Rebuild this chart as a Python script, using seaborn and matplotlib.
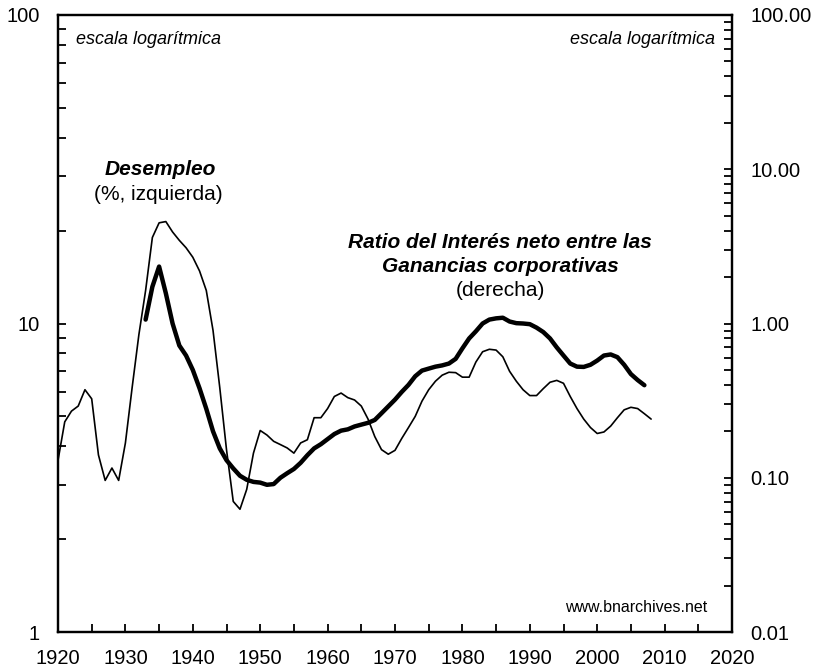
import numpy as np
import pandas as pd
import matplotlib
matplotlib.use("Agg")
import matplotlib.pyplot as plt
import matplotlib.ticker as mticker
import seaborn as sns

# Desempleo (%, eje izquierdo), 1920-2008
years_unemp = list(range(1920, 2009))
unemp = [3.6, 4.8, 5.2, 5.4, 6.1, 5.7, 3.75, 3.1, 3.4, 3.1,
         4.1, 6.2, 9.2, 12.8, 19.0, 21.2, 21.4, 19.8, 18.6, 17.6,
         16.4, 14.8, 12.8, 9.5, 6.2, 3.9, 2.65, 2.5, 2.9, 3.8,
         4.5, 4.35, 4.15, 4.05, 3.95, 3.8, 4.1, 4.2, 4.95, 4.95,
         5.3, 5.8, 5.95, 5.75, 5.65, 5.4, 4.9, 4.3, 3.9, 3.77,
         3.88, 4.24, 4.6, 5.0, 5.6, 6.1, 6.5, 6.8, 6.95, 6.93,
         6.7, 6.7, 7.5, 8.1, 8.25, 8.2, 7.8, 7.0, 6.5, 6.1,
         5.84, 5.84, 6.15, 6.45, 6.54, 6.4, 5.8, 5.3, 4.9, 4.6,
         4.4, 4.45, 4.65, 4.95, 5.25, 5.35, 5.3, 5.1, 4.9]

# Ratio interés neto / ganancias corporativas (eje derecho), 1933-2007
years_ratio = list(range(1933, 2008))
ratio = [1.06, 1.73, 2.34, 1.57, 1.0, 0.72, 0.62, 0.50, 0.38, 0.28,
         0.20, 0.155, 0.13, 0.115, 0.103, 0.097, 0.094, 0.093, 0.090, 0.091,
         0.100, 0.107, 0.114, 0.125, 0.140, 0.155, 0.165, 0.178, 0.192, 0.202,
         0.206, 0.215, 0.221, 0.227, 0.237, 0.262, 0.290, 0.321, 0.360, 0.400,
         0.455, 0.495, 0.510, 0.525, 0.535, 0.550, 0.590, 0.690, 0.800, 0.89,
         1.00, 1.06, 1.08, 1.09, 1.03, 1.005, 1.0, 0.99, 0.94, 0.88,
         0.80, 0.70, 0.62, 0.55, 0.525, 0.523, 0.540, 0.575, 0.620, 0.630,
         0.605, 0.540, 0.470, 0.430, 0.398]

left_ticks = [1, 10, 100]
left_labels = ["1", "10", "100"]
right_ticks = [0.01, 0.1, 1, 10, 100]
right_labels = ["0.01", "0.10", "1.00", "10.00", "100.00"]

df_u = pd.DataFrame({"year": years_unemp, "value": unemp})
df_r = pd.DataFrame({"year": years_ratio, "value": ratio})

sns.set_style("ticks")
plt.rcParams['font.family'] = ['Liberation Sans', 'DejaVu Sans']
plt.rcParams['text.color'] = 'black'
plt.rcParams['xtick.color'] = 'black'
plt.rcParams['ytick.color'] = 'black'
plt.rcParams['axes.labelcolor'] = 'black'

fig = plt.figure(figsize=(8.16, 6.68), dpi=100)
ax = fig.add_axes([58/816, 1-632/668, (732-58)/816, (632-15)/668])
ax2 = ax.twinx()

sns.lineplot(data=df_u, x="year", y="value", ax=ax, color="black", linewidth=1.2)
sns.lineplot(data=df_r, x="year", y="value", ax=ax2, color="black", linewidth=3.2)

ax.set_xlim(1920, 2020)
ax.set_yscale("log")
ax.set_ylim(1, 100)
ax2.set_yscale("log")
ax2.set_ylim(0.01, 100)

ax.xaxis.set_major_locator(mticker.MultipleLocator(10))
ax.xaxis.set_minor_locator(mticker.MultipleLocator(5))
ax.yaxis.set_major_locator(mticker.FixedLocator(left_ticks))
ax.yaxis.set_major_formatter(mticker.FixedFormatter(left_labels))
ax.yaxis.set_minor_locator(mticker.LogLocator(base=10, subs=np.arange(2, 10)))
ax.yaxis.set_minor_formatter(mticker.NullFormatter())
ax2.yaxis.set_major_locator(mticker.FixedLocator(right_ticks))
ax2.yaxis.set_major_formatter(mticker.FixedFormatter(right_labels))
ax2.yaxis.set_minor_locator(mticker.LogLocator(base=10, subs=np.arange(2, 10)))
ax2.yaxis.set_minor_formatter(mticker.NullFormatter())

for a in (ax, ax2):
    a.set_xlabel("")
    a.set_ylabel("")
    for s in a.spines.values():
        s.set_visible(True)
        s.set_linewidth(1.6)
        s.set_color("black")

ax.tick_params(axis="x", which="both", direction="in", length=6, width=1.3,
               labelsize=14.5, pad=12, top=False, colors="black")
ax.tick_params(axis="y", which="both", direction="in", length=6, width=1.3,
               labelsize=14.5, pad=13, right=False, colors="black")
ax2.tick_params(axis="y", which="both", direction="in", length=6, width=1.3,
                labelsize=14.5, pad=13, left=False, colors="black")

def px(x, y):
    return (x / 816, 1 - y / 668)

fig.text(*px(76, 40), "escala logarítmica", fontsize=13, style="italic",
         ha="left", va="center", color="black")
fig.text(*px(715, 40), "escala logarítmica", fontsize=13, style="italic",
         ha="right", va="center", color="black")
fig.text(*px(160, 170), "Desempleo", fontsize=15, style="italic",
         fontweight="bold", ha="center", va="center", color="black")
fig.text(*px(158, 195), "(%, izquierda)", fontsize=15, ha="center",
         va="center", color="black")
fig.text(*px(500, 243), "Ratio del Interés neto entre las", fontsize=15,
         style="italic", fontweight="bold", ha="center", va="center",
         color="black")
fig.text(*px(500, 267), "Ganancias corporativas", fontsize=15,
         style="italic", fontweight="bold", ha="center", va="center",
         color="black")
fig.text(*px(500, 290), "(derecha)", fontsize=15, ha="center", va="center",
         color="black")
fig.text(*px(636, 608), "www.bnarchives.net", fontsize=11.5,
         ha="center", va="center", color="black")

fig.savefig("out.png", dpi=100)
